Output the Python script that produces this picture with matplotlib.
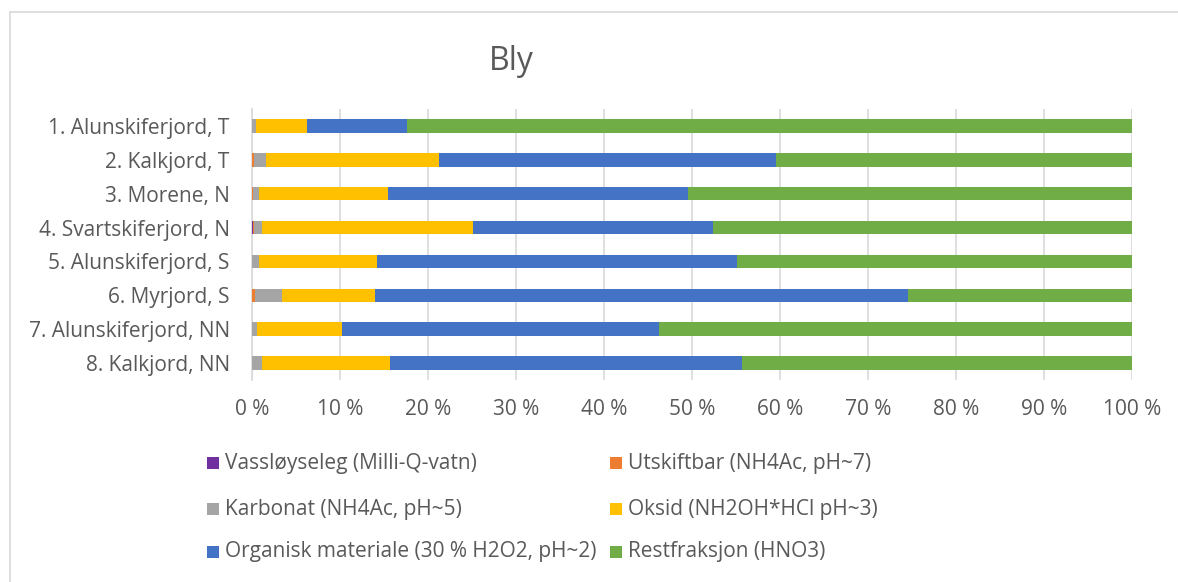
import matplotlib
matplotlib.use("Agg")
import matplotlib.pyplot as plt
from matplotlib.patches import Rectangle
from matplotlib.lines import Line2D
import numpy as np

plt.rcParams['font.family'] = ['Open Sans', 'DejaVu Sans']

# Sample sites (top to bottom)
sites = [
    "1. Alunskiferjord, T",
    "2. Kalkjord, T",
    "3. Morene, N",
    "4. Svartskiferjord, N",
    "5. Alunskiferjord, S",
    "6. Myrjord, S",
    "7. Alunskiferjord, NN",
    "8. Kalkjord, NN",
]

# Fraction names
fractions = [
    "Vassløyseleg (Milli-Q-vatn)",
    "Utskiftbar (NH4Ac, pH~7)",
    "Karbonat (NH4Ac, pH~5)",
    "Oksid (NH2OH*HCl pH~3)",
    "Organisk materiale (30 % H2O2, pH~2)",
    "Restfraksjon (HNO3)",
]

# Share of lead (%) in each fraction, per site
vassloyseleg = [0.0, 0.0, 0.0, 0.15, 0.0, 0.0, 0.0, 0.0]
utskiftbar = [0.05, 0.2, 0.1, 0.1, 0.05, 0.3, 0.05, 0.05]
karbonat = [0.4, 1.4, 0.7, 0.9, 0.75, 3.1, 0.55, 1.05]
oksid = [5.8, 19.7, 14.6, 24.0, 13.4, 10.6, 9.6, 14.6]
organisk = [11.35, 38.2, 34.1, 27.2, 40.9, 60.6, 36.1, 40.0]
restfraksjon = [82.4, 40.5, 50.5, 47.6, 44.9, 25.4, 53.7, 44.3]

x_ticklabels = ["0 %", "10 %", "20 %", "30 %", "40 %", "50 %",
                "60 %", "70 %", "80 %", "90 %", "100 %"]

colors = ["#7030A0", "#ED7D31", "#A5A5A5", "#FFC000", "#4472C4", "#70AD47"]
text_color = "#595959"
grid_color = "#D9D9D9"
fs = 15

W, H = 1178, 582
fig = plt.figure(figsize=(W / 100, H / 100), dpi=100)

# chart frame
fig.add_artist(Line2D([10 / W, 1.0], [1 - 12 / H, 1 - 12 / H],
                      color=grid_color, lw=1.2, transform=fig.transFigure))
fig.add_artist(Line2D([10 / W, 10 / W], [1 - 12 / H, 0.0],
                      color=grid_color, lw=1.2, transform=fig.transFigure))

left, right, top, bottom = 252, 1132, 109, 380
ax = fig.add_axes([left / W, 1 - bottom / H, (right - left) / W, (bottom - top) / H])

series = np.array([vassloyseleg, utskiftbar, karbonat, oksid, organisk, restfraksjon])
shares = series / series.sum(axis=0) * 100.0

y = np.arange(len(sites))
cum = np.zeros(len(sites))
for vals, col, name in zip(shares, colors, fractions):
    ax.barh(y, vals, left=cum, height=0.4, color=col, label=name, linewidth=0, zorder=3)
    cum += vals

ax.set_xlim(0, 100)
ax.set_ylim(len(sites) - 0.5, -0.5)
ax.set_yticks(y)
ax.set_yticklabels(sites, fontsize=fs, color=text_color)
ax.set_xticks(np.arange(0, 101, 10))
ax.set_xticklabels(x_ticklabels, fontsize=fs, color=text_color)
ax.tick_params(axis='both', length=0)
ax.tick_params(axis='y', pad=16)
ax.tick_params(axis='x', pad=14)
ax.grid(axis='x', color=grid_color, lw=1.2, zorder=0)
for s in ["top", "right", "bottom"]:
    ax.spines[s].set_visible(False)
ax.spines["left"].set_color(grid_color)
ax.spines["left"].set_linewidth(1.2)

fig.text(511 / W, 1 - 61 / H, "Bly", fontsize=23, color=text_color,
         ha="center", va="center")

# legend, two columns
col_x = [207, 610]
row_y = [463, 509, 552]
sq = 12
for i, (name, col) in enumerate(zip(fractions, colors)):
    cx = col_x[i % 2]
    cy = row_y[i // 2]
    fig.add_artist(Rectangle((cx / W, 1 - (cy + sq / 2) / H), sq / W, sq / H,
                             facecolor=col, edgecolor="none", transform=fig.transFigure))
    fig.text((cx + sq + 6) / W, 1 - cy / H, name, fontsize=fs, color=text_color,
             ha="left", va="center")

fig.savefig("out.png", dpi=100, facecolor="white")
